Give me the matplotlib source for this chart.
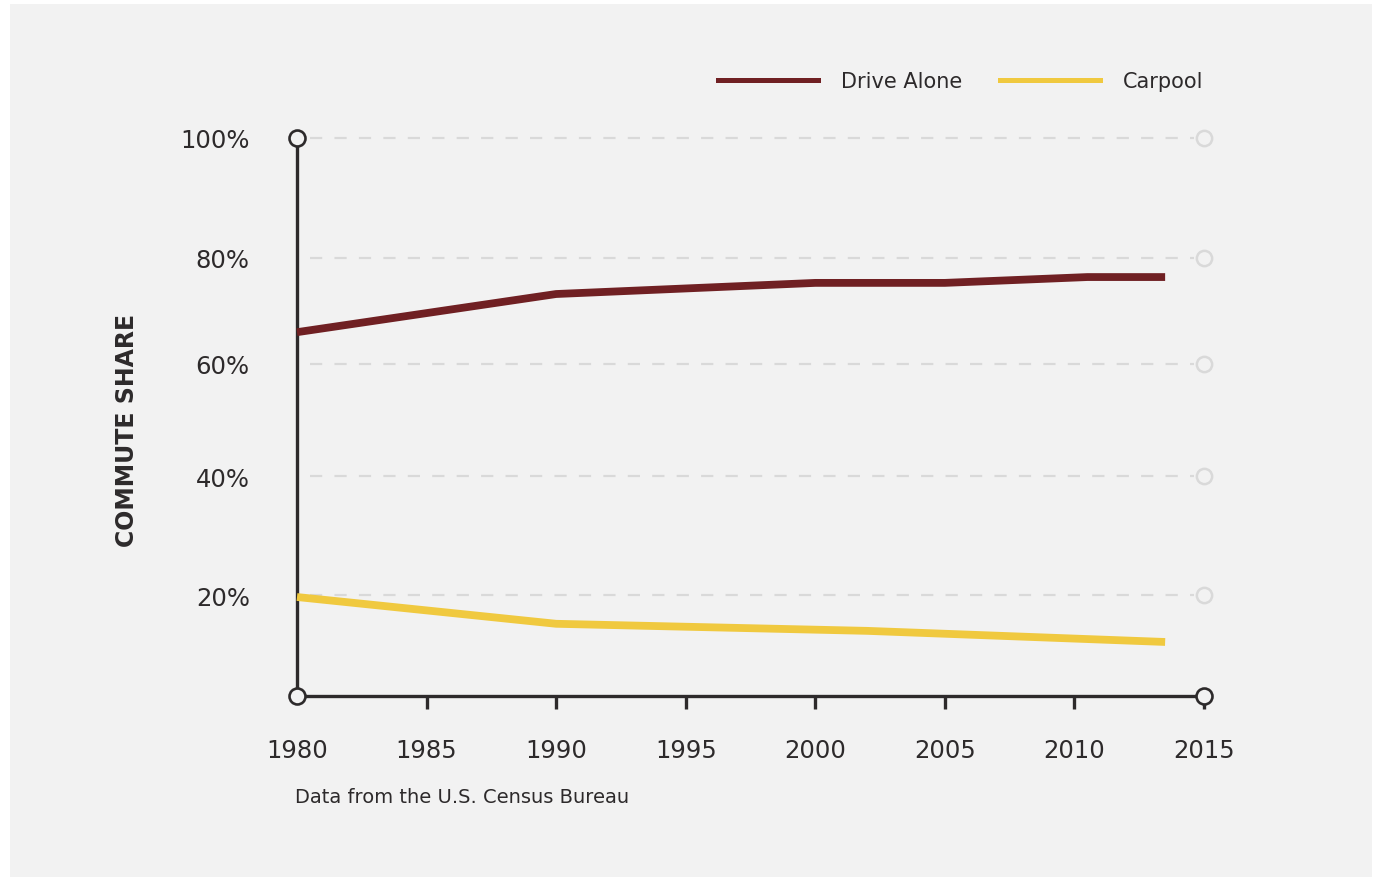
import numpy as np
import matplotlib
matplotlib.use("Agg")
import matplotlib.pyplot as plt
from matplotlib.lines import Line2D
from matplotlib.patches import Rectangle

# Values (percent of commuters)
DRIVE_YEARS = [1980, 1990, 2000, 2005, 2010.5, 2013.5]
DRIVE_SHARE = [66.0, 73.2, 75.3, 75.3, 76.4, 76.4]
CARPOOL_YEARS = [1980, 1990, 2002, 2013.5]
CARPOOL_SHARE = [19.6, 14.3, 12.9, 10.7]

X_TICKS = [1980, 1985, 1990, 1995, 2000, 2005, 2010, 2015]
Y_TICKS = [0, 20, 40, 60, 80, 100]
Y_TICK_LABELS = ["", "20%", "40%", "60%", "80%", "100%"]

BG = "#f2f2f2"
DARK = "#2d2a2b"
GRID = "#d9d9d9"
DRIVE_COLOR = "#702023"
CARPOOL_COLOR = "#f0c93f"

# the original graphic spaces its gridlines unevenly; keep that spacing
GRID_FRAC = [0.0, 0.181, 0.394, 0.595, 0.785, 1.0]
_vals = [-100] + Y_TICKS + [200]
_fracs = [-1.0] + GRID_FRAC + [2.0]


def _fwd(v):
    return np.interp(v, _vals, _fracs)


def _inv(f):
    return np.interp(f, _fracs, _vals)


plt.rcParams["font.family"] = ["DejaVu Sans"]

W, H = 1374, 878
fig = plt.figure(figsize=(W / 100, H / 100), dpi=100, facecolor="white")
fig.patches.append(Rectangle((10 / W, 0), (W - 12) / W, (H - 5) / H,
                             transform=fig.transFigure, facecolor=BG,
                             edgecolor="none", zorder=-10))

ax = fig.add_axes([297 / W, 1 - 697 / H, 907 / W, 558 / H])
ax.set_facecolor("none")
ax.set_yscale("function", functions=(_fwd, _inv))
ax.set_xlim(1980, 2015)
ax.set_ylim(0, 100)

for side in ["top", "right"]:
    ax.spines[side].set_visible(False)
for side in ["left", "bottom"]:
    ax.spines[side].set_color(DARK)
    ax.spines[side].set_linewidth(2.4)
    ax.spines[side].set_zorder(3)

# dashed guides with hollow end circles
for y in Y_TICKS[1:]:
    ax.plot([1980.5, 2014.6], [y, y], color=GRID, lw=1.6,
            dashes=(5.5, 5.5), zorder=1, clip_on=False)
    ax.plot([2015], [y], "o", ms=11, mfc=BG, mec=GRID, mew=1.8,
            zorder=2, clip_on=False)

ax.plot(DRIVE_YEARS, DRIVE_SHARE, color=DRIVE_COLOR, lw=5.6,
        solid_capstyle="butt", solid_joinstyle="round", zorder=4, clip_on=False)
ax.plot(CARPOOL_YEARS, CARPOOL_SHARE, color=CARPOOL_COLOR, lw=5.6,
        solid_capstyle="butt", solid_joinstyle="round", zorder=4, clip_on=False)

for x, y in [(1980, 100), (1980, 0), (2015, 0)]:
    ax.plot([x], [y], "o", ms=11.5, mfc=BG, mec=DARK, mew=1.9,
            zorder=5, clip_on=False)

ax.set_xticks(X_TICKS)
ax.set_xticklabels([str(x) for x in X_TICKS])
ax.tick_params(axis="x", direction="out", length=9, width=2.4, color=DARK,
               labelsize=17.5, labelcolor=DARK, pad=21)
ax.xaxis.get_major_ticks()[0].tick1line.set_visible(False)

ax.set_yticks(Y_TICKS)
ax.set_yticklabels(Y_TICK_LABELS)
ax.yaxis.set_minor_locator(plt.NullLocator())
ax.tick_params(axis="y", length=0, labelsize=17.5, labelcolor=DARK, pad=34)

fig.text(127 / W, 1 - 430 / H, "COMMUTE SHARE", rotation=90, ha="center",
         va="center", fontsize=17, fontweight="bold", color=DARK)
fig.text(295 / W, 1 - 798 / H, "Data from the U.S. Census Bureau",
         ha="left", va="center", fontsize=14, color=DARK)

handles = [Line2D([], [], color=DRIVE_COLOR, lw=3.6),
           Line2D([], [], color=CARPOOL_COLOR, lw=3.6)]
fig.legend(handles, ["Drive Alone", "Carpool"], loc="center left",
           bbox_to_anchor=(718 / W, 1 - 82 / H), ncol=2, frameon=False,
           fontsize=15, handlelength=4.8, handletextpad=1.1,
           columnspacing=1.8, borderpad=0, borderaxespad=0,
           labelcolor=DARK)

fig.savefig("out.png", dpi=100, facecolor="white")
